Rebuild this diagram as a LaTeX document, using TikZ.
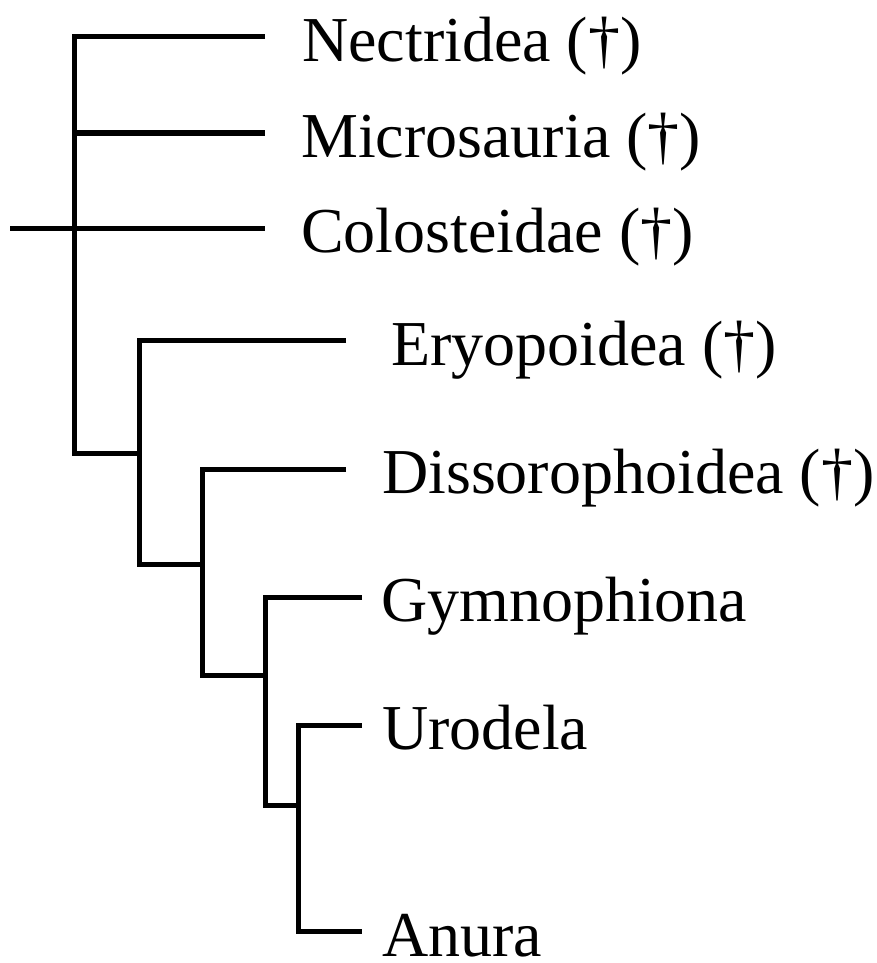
\documentclass[tikz,border=0pt]{standalone}
\usepackage{fontspec}
\setmainfont{Liberation Serif}
\begin{document}
\begin{tikzpicture}[x=1pt,y=-1pt,
  br/.style={line width=5pt,line join=miter,black},
  taxon/.style={anchor=base west,inner sep=0pt,font=\fontsize{64}{70}\selectfont}]
\useasboundingbox (0,0) rectangle (877,963);
% line tips
\coordinate (tNec) at (265,37);
\coordinate (tMic) at (265,133);
\coordinate (tCol) at (265,228);
\coordinate (root) at (10,228);
\coordinate (tEry) at (346,340.5);
\coordinate (tDis) at (346,469);
\coordinate (tGym) at (362,597);
\coordinate (tUro) at (362,725);
\coordinate (tAnu) at (362,931.5);
% internal junctions
\coordinate (jMic) at (74.5,133);
\coordinate (n0) at (74.5,453);
\coordinate (m1) at (139,453);
\coordinate (n1) at (139,564.5);
\coordinate (m2) at (202,564.5);
\coordinate (n2) at (202,675.5);
\coordinate (m3) at (265.5,675.5);
\coordinate (n3) at (265.5,805);
\coordinate (m4) at (298,805);
\coordinate (n4) at (298,931.5);
% labels
\node[taxon] (Nec) at (302,61.5) {Nectridea (†)};
\node[taxon] (Mic) at (301,157.5) {Microsauria (†)};
\node[taxon] (Col) at (301,252.5) {Colosteidae (†)};
\node[taxon] (Ery) at (391,365) {Eryopoidea (†)};
\node[taxon] (Dis) at (382,493.5) {Dissorophoidea (†)};
\node[taxon] (Gym) at (381,621.5) {Gymnophiona};
\node[taxon] (Uro) at (382,749.5) {Urodela};
\node[taxon] (Anu) at (382,956) {Anura};
% branches
\draw[br] (tNec) -| (n0) -- (m1);
\draw[br] (jMic) -- (tMic);
\draw[br] (root) -- (tCol);
\draw[br] (tEry) -| (n1) -- (m2);
\draw[br] (tDis) -| (n2) -- (m3);
\draw[br] (tGym) -| (n3) -- (m4);
\draw[br] (tUro) -| (n4) -- (tAnu);
\end{tikzpicture}
\end{document}
